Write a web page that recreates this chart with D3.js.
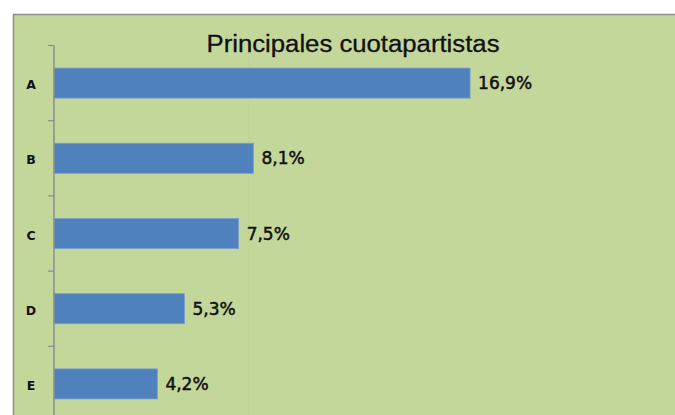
<!DOCTYPE html>
<html>
<head>
<meta charset="utf-8">
<script src="https://cdn.jsdelivr.net/npm/d3@7"></script>
<style>
  body { margin: 0; background: #fff; }
  svg { display: block; }
</style>
</head>
<body>
<div id="chart"></div>
<script>
// chart data
var categories = ["A", "B", "C", "D", "E"];
var shares = [16.9, 8.1, 7.5, 5.3, 4.2];
var gridValues = [7.9];
var chartTitle = "Principales cuotapartistas";

var svgWidth = 675;
var svgHeight = 415;

var svg = d3.select("#chart")
  .append("svg")
  .attr("width", svgWidth)
  .attr("height", svgHeight);

// chart area background (cropped on right/bottom like the original)
svg.append("rect")
  .attr("x", 13.5)
  .attr("y", 14.5)
  .attr("width", 700)
  .attr("height", 420)
  .attr("fill", "#c4d79b")
  .attr("stroke", "#8c8c8c")
  .attr("stroke-width", 1.5);

// scales
var xScale = d3.scaleLinear()
  .domain([0, 18])
  .range([54, 54 + 18 * 24.62]);

var yScale = d3.scaleBand()
  .domain(categories)
  .range([45.5, 421.5])
  .paddingInner(0.6)
  .paddingOuter(0.3);

var comma = d3.formatLocale({ decimal: ",", thousands: ".", grouping: [3], currency: ["", "%"] });
var fmt = comma.format(".1f");

// faint dotted gridlines
svg.selectAll(".grid")
  .data(gridValues)
  .enter().append("line")
    .attr("x1", d => xScale(d))
    .attr("x2", d => xScale(d))
    .attr("y1", 45)
    .attr("y2", svgHeight)
    .attr("stroke", "#b3c890")
    .attr("stroke-width", 1)
    .attr("stroke-dasharray", "1,3");

// bars
svg.selectAll(".bar")
  .data(categories)
  .enter().append("rect")
    .attr("x", xScale(0))
    .attr("y", d => yScale(d))
    .attr("width", (d, i) => xScale(shares[i]) - xScale(0))
    .attr("height", yScale.bandwidth())
    .attr("fill", "#4f81bd")
    .attr("stroke", "#7b9fd1")
    .attr("stroke-width", 0.8);

// y axis line + ticks between categories
var step = yScale.step();
var tickPos = categories.map(d => yScale(d) - step * 0.3);
tickPos.push(yScale(categories[categories.length - 1]) - step * 0.3 + step);

svg.append("line")
  .attr("x1", xScale(0))
  .attr("x2", xScale(0))
  .attr("y1", tickPos[0])
  .attr("y2", svgHeight)
  .attr("stroke", "#8c8c8c")
  .attr("stroke-width", 1.5);

svg.selectAll(".tick")
  .data(tickPos)
  .enter().append("line")
    .attr("x1", xScale(0) - 6)
    .attr("x2", xScale(0))
    .attr("y1", d => d)
    .attr("y2", d => d)
    .attr("stroke", "#8c8c8c")
    .attr("stroke-width", 1.2);

// category labels
svg.selectAll(".cat")
  .data(categories)
  .enter().append("text")
    .attr("x", 31)
    .attr("y", d => yScale(d) + yScale.bandwidth() / 2 + 1.5)
    .attr("dy", "0.36em")
    .attr("text-anchor", "middle")
    .attr("font-family", "DejaVu Sans")
    .attr("font-weight", "bold")
    .attr("font-size", 12.5)
    .attr("fill", "#111")
    .text(d => d);

// value labels
svg.selectAll(".val")
  .data(categories)
  .enter().append("text")
    .attr("x", (d, i) => xScale(shares[i]) + 8)
    .attr("y", d => yScale(d) + yScale.bandwidth() / 2)
    .attr("dy", "0.36em")
    .attr("font-family", "DejaVu Sans")
    .attr("font-size", 17)
    .attr("fill", "#111")
    .attr("stroke", "#111")
    .attr("stroke-width", 0.5)
    .text((d, i) => fmt(shares[i]) + "%");

// title
svg.append("text")
  .attr("x", 353)
  .attr("y", 52)
  .attr("text-anchor", "middle")
  .attr("font-family", "Liberation Sans")
  .attr("font-size", 23)
  .attr("textLength", 293)
  .attr("lengthAdjust", "spacingAndGlyphs")
  .attr("fill", "#111")
  .attr("stroke", "#111")
  .attr("stroke-width", 0.3)
  .text(chartTitle);
</script>
</body>
</html>
